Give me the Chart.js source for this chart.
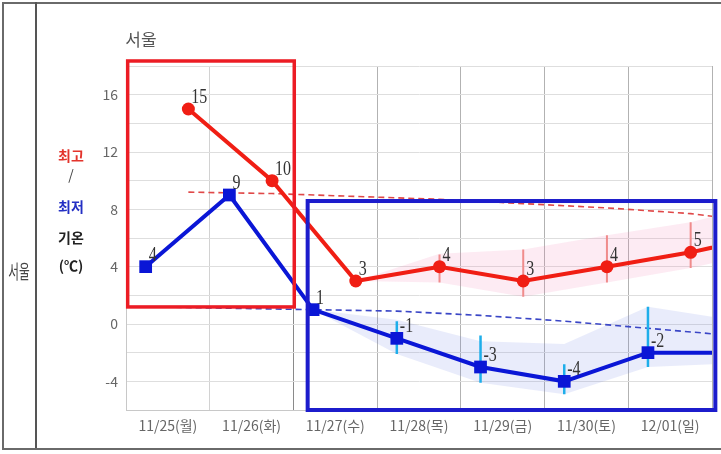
<!DOCTYPE html>
<html><head><meta charset="utf-8">
<script src="https://cdn.jsdelivr.net/npm/chart.js@4.4.1/dist/chart.umd.min.js"></script>
<style>
html,body{margin:0;padding:0;background:#fff;}
#wrap{position:relative;width:721px;height:454px;overflow:hidden;background:#fff;font-family:"Noto Sans CJK KR","Noto Sans",sans-serif;}
canvas{position:absolute;left:0;top:0;}
.ln{position:absolute;background:#6a6a6a;}
.t{position:absolute;white-space:nowrap;line-height:1;transform:translate(-50%,-50%);}
</style></head><body>
<div id="wrap">
<canvas id="c" width="721" height="454"></canvas>
<div class="ln" style="left:2px;top:2px;width:719px;height:2px;"></div>
<div class="ln" style="left:2px;top:2px;width:2px;height:448px;"></div>
<div class="ln" style="left:35px;top:2px;width:2px;height:448px;background:#555;"></div>
<div class="ln" style="left:2px;top:448px;width:719px;height:2px;"></div>
<div class="t" style="left:141px;top:38px;font-size:17px;color:#555;">서울</div>
<div class="t" style="left:71px;top:155px;font-size:14px;font-weight:bold;color:#e3342c;">최고</div>
<div class="t" style="left:71px;top:174px;font-size:14px;color:#444;">/</div>
<div class="t" style="left:71px;top:206px;font-size:14px;font-weight:bold;color:#2430c4;">최저</div>
<div class="t" style="left:71px;top:237px;font-size:14px;font-weight:bold;color:#222;">기온</div>
<div class="t" style="left:71px;top:265px;font-size:14px;font-weight:bold;color:#222;">(℃)</div>
<div class="t" style="left:19px;top:271px;font-size:13px;color:#444;transform:translate(-50%,-50%) scale(0.9,1.5);">서울</div>
</div>
<script>
// ---- data ----
const categories = ['11/25(월)','11/26(화)','11/27(수)','11/28(목)','11/29(금)','11/30(토)','12/01(일)'];
const highTemps = [15, 10, 3, 4, 3, 4, 5];
const lowTemps  = [4, 9, 1, -1, -3, -4, -2];
const nextHigh = 6.3;   // following day, only partly visible at right edge
const nextLow  = -2;
const normalHigh = [9.2, 9.1, 8.9, 8.7, 8.4, 8.1, 7.7, 7.0];
const normalLow  = [1.2, 1.1, 1.0, 0.9, 0.6, 0.2, -0.3, -0.8];
const highBandLo = [null, null, 3, 2.9, 1.9, 2.9, 3.9, 5.2];
const highBandHi = [null, null, 3, 4.9, 5.2, 6.2, 7.1, 8.6];
const lowBandLo  = [null, null, 1, -2.1, -4.1, -4.9, -3.0, -2.75];
const lowBandHi  = [null, null, 1, 0.3, -1.2, -1.4, 1.2, 0.3];
const highBarLo  = [null, null, null, 2.9, 1.9, 2.9, 3.9];
const highBarHi  = [null, null, null, 4.85, 5.2, 6.2, 7.1];
const lowBarLo   = [null, null, null, -2.1, -4.1, -4.9, -3.0];
const lowBarHi   = [null, null, null, 0.2, -0.8, -2.8, 1.2];
const yTickLabels = [-4, 0, 4, 8, 12, 16];

// time-of-day offsets within each day band (morning low, afternoon high)
const LOW_FRAC = 0.235, HIGH_FRAC = 0.745;
// hand-drawn highlight boxes, in data units (day, °C)
const boxes = [
  {x0: 0.02, x1: 2.01, y0: 1.19, y1: 18.35, color: '#ec1c24', width: 3.5},
  {x0: 2.17, x1: 7.04, y0: -6, y1: 8.58, color: '#1c1ccc', width: 4}
];

function pts(vals, frac){ return vals.map((v,i)=> v==null ? null : {x: i+frac, y: v}).filter(Boolean); }
function bars(lo, hi, frac){
  const out = [];
  lo.forEach((v,i)=>{ if (v==null) return; out.push({x:i+frac,y:v},{x:i+frac,y:hi[i]},{x:i+frac,y:null}); });
  return out;
}
const RED = '#f01e14', BLUE = '#0a16d6';
const nDays = categories.length;

const labelPlugin = {
  id: 'vlabels',
  afterDatasetsDraw(chart){
    const ctx = chart.ctx;
    [[0, highTemps],[1, lowTemps]].forEach(([di, vals])=>{
      const meta = chart.getDatasetMeta(di);
      vals.forEach((v,i)=>{
        const el = meta.data[i];
        ctx.save();
        ctx.font = '20px "Liberation Serif", serif';
        ctx.fillStyle = '#333';
        ctx.textBaseline = 'alphabetic';
        ctx.translate(el.x + 3, el.y - 6);
        ctx.scale(0.8, 1);
        ctx.fillText(String(v), 0, 0);
        ctx.restore();
      });
    });
  },
  afterDraw(chart){
    const ctx = chart.ctx, xs = chart.scales.xl, ys = chart.scales.y;
    boxes.forEach(b=>{
      const l = xs.getPixelForValue(b.x0), r = xs.getPixelForValue(b.x1);
      const t = ys.getPixelForValue(b.y1), btm = ys.getPixelForValue(b.y0);
      ctx.save();
      ctx.strokeStyle = b.color; ctx.lineWidth = b.width;
      ctx.strokeRect(l, t, r - l, btm - t);
      ctx.restore();
    });
  }
};

new Chart(document.getElementById('c'), {
  type: 'line',
  data: {
    datasets: [
      { data: pts([...highTemps, nextHigh], HIGH_FRAC), xAxisID:'xl', borderColor: RED, backgroundColor: RED, borderWidth: 4,
        pointStyle:'circle', pointRadius: c => c.dataIndex < nDays ? 6.5 : 0, pointBorderWidth: 0, pointBackgroundColor: RED, order: 0 },
      { data: pts([...lowTemps, nextLow], LOW_FRAC), xAxisID:'xl', borderColor: BLUE, backgroundColor: BLUE, borderWidth: 4,
        pointStyle:'rect', pointRadius: c => c.dataIndex < nDays ? 9 : 0, pointBorderWidth: 0, pointBackgroundColor: BLUE, order: 0 },
      { data: bars(highBarLo, highBarHi, HIGH_FRAC), xAxisID:'xl', borderColor:'#f08c8c', borderWidth: 2, pointRadius: 0, spanGaps:false, order: 1 },
      { data: bars(lowBarLo, lowBarHi, LOW_FRAC), xAxisID:'xl', borderColor:'#1eaeea', borderWidth: 2.5, pointRadius: 0, spanGaps:false, order: 1 },
      { data: pts(normalHigh, HIGH_FRAC), xAxisID:'xl', borderColor:'#e04848', borderWidth: 1.6, borderDash:[6,4], pointRadius: 0, order: 2 },
      { data: pts(normalLow, LOW_FRAC), xAxisID:'xl', borderColor:'#3a46c6', borderWidth: 1.6, borderDash:[6,4], pointRadius: 0, order: 2 },
      { data: pts(highBandLo, HIGH_FRAC), xAxisID:'xl', borderWidth: 0, pointRadius: 0, fill: false, order: 3 },
      { data: pts(highBandHi, HIGH_FRAC), xAxisID:'xl', borderWidth: 0, pointRadius: 0, fill: 6, backgroundColor:'rgba(240,120,175,0.15)', order: 3 },
      { data: pts(lowBandLo, LOW_FRAC), xAxisID:'xl', borderWidth: 0, pointRadius: 0, fill: false, order: 3 },
      { data: pts(lowBandHi, LOW_FRAC), xAxisID:'xl', borderWidth: 0, pointRadius: 0, fill: 8, backgroundColor:'rgba(110,130,225,0.15)', order: 3 }
    ]
  },
  options: {
    responsive: false, animation: false, devicePixelRatio: 1,
    layout: { padding: { top: 66, right: 7, left: 0, bottom: 0 } },
    elements: { line: { tension: 0 } },
    plugins: { legend: { display: false }, tooltip: { enabled: false } },
    scales: {
      x: {
        type: 'category', labels: categories, offset: true, position: 'bottom',
        grid: { offset: true, drawTicks: false, lineWidth: 1,
          color: c => c.index === 1 ? '#d2d2d2' : (c.index === 2 ? '#8a8a8a' : '#b2b2b2') },
        border: { display: true, color: '#c8c8c8' },
        ticks: { color: '#666', font: { size: 14, family: '"Noto Sans CJK KR", sans-serif' }, padding: 7, autoSkip: false, maxRotation: 0 },
        afterFit: s => { s.height = 44; }
      },
      xl: { type: 'linear', display: false, min: 0, max: nDays },
      y: {
        min: -6, max: 18,
        ticks: { stepSize: 2, callback: v => yTickLabels.includes(v) ? String(v) : '', color: '#666',
          font: { size: 14, family: '"Noto Sans CJK KR", sans-serif' }, padding: 8 },
        grid: { color: '#dedede', drawTicks: false },
        border: { color: '#c8c8c8' },
        afterFit: s => { s.width = 126; }
      }
    }
  },
  plugins: [labelPlugin]
});
</script>
</body></html>
